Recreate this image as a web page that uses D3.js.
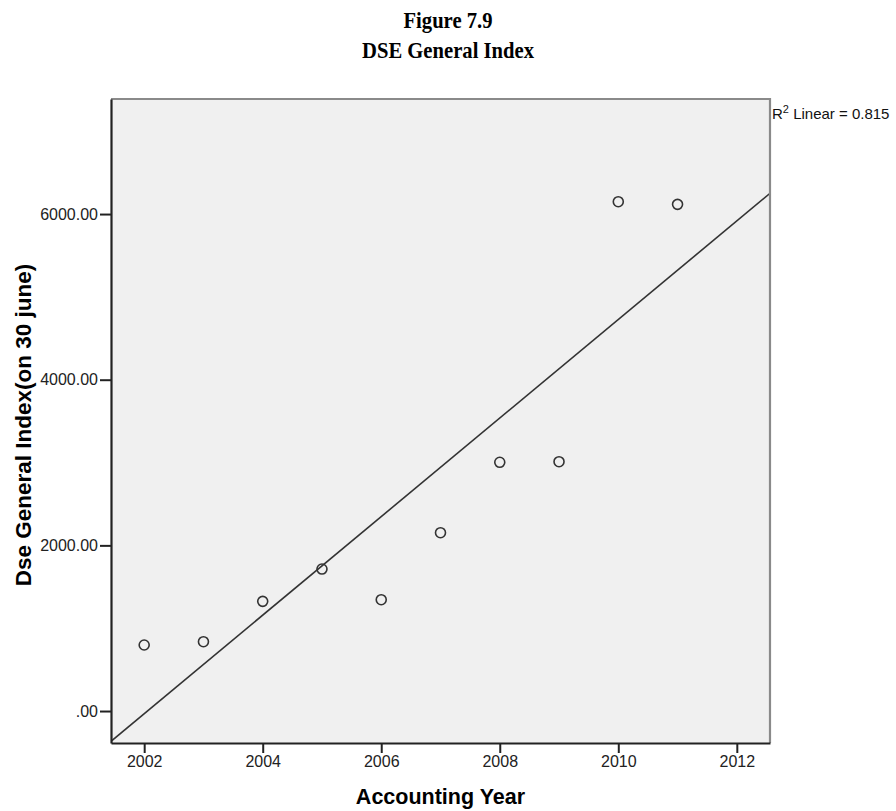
<!DOCTYPE html>
<html>
<head>
<meta charset="utf-8">
<script src="https://cdn.jsdelivr.net/npm/d3@7"></script>
<style>
  html, body { margin: 0; padding: 0; background: #fff; }
  svg { display: block; }
</style>
</head>
<body>
<svg id="chart" width="896" height="811"></svg>
<script>
// ---- data ----
const years = [2002, 2003, 2004, 2005, 2006, 2007, 2008, 2009, 2010, 2011];
const dseIndex = [797, 837, 1324, 1714, 1344, 2153, 3003, 3010, 6149, 6117];
const xTicks = [2002, 2004, 2006, 2008, 2010, 2012];
const yTicks = [0, 2000, 4000, 6000];
const rSquaredLabel = "0.815";
const titleLines = ["Figure 7.9", "DSE General Index"];
const xTitle = "Accounting Year";
const yTitle = "Dse General Index(on 30 june)";

// ---- layout ----
const svg = d3.select("#chart");
const plot = { left: 111, right: 770, top: 99, bottom: 743 };

const x = d3.scaleLinear().domain([2001.44, 2012.56]).range([plot.left, plot.right]);
const y = d3.scaleLinear().domain([-386, 7389]).range([plot.bottom, plot.top]);

// titles (condensed bold serif)
svg.selectAll("text.title").data(titleLines).join("text")
  .attr("class", "title")
  .attr("transform", (d, i) => `translate(448,${28 + i * 30}) scale(0.86,1)`)
  .attr("text-anchor", "middle")
  .attr("font-family", "'Liberation Serif', 'Times New Roman', serif")
  .attr("font-weight", "bold")
  .attr("font-size", 24)
  .attr("fill", "#000")
  .text(d => d);

// plot background
svg.append("rect")
  .attr("x", plot.left).attr("y", plot.top)
  .attr("width", plot.right - plot.left).attr("height", plot.bottom - plot.top)
  .attr("fill", "#f0f0f0");

// clip
svg.append("clipPath").attr("id", "clip").append("rect")
  .attr("x", plot.left).attr("y", plot.top)
  .attr("width", plot.right - plot.left).attr("height", plot.bottom - plot.top);

// regression line (least squares from data)
const mx = d3.mean(years), my = d3.mean(dseIndex);
const sxy = d3.sum(years, (v, i) => (v - mx) * (dseIndex[i] - my));
const sxx = d3.sum(years, v => (v - mx) * (v - mx));
const slope = sxy / sxx, icpt = my - slope * mx;
const [x0, x1] = x.domain();
svg.append("line")
  .attr("clip-path", "url(#clip)")
  .attr("x1", x(x0)).attr("y1", y(icpt + slope * x0))
  .attr("x2", x(x1)).attr("y2", y(icpt + slope * x1))
  .attr("stroke", "#333").attr("stroke-width", 1.6);

// points
svg.selectAll("circle.pt").data(years).join("circle")
  .attr("class", "pt")
  .attr("cx", d => x(d))
  .attr("cy", (d, i) => y(dseIndex[i]))
  .attr("r", 5)
  .attr("fill", "none")
  .attr("stroke", "#333")
  .attr("stroke-width", 1.6);

// frame top/right (gray)
svg.append("path")
  .attr("d", `M${plot.left},${plot.top}H${plot.right}V${plot.bottom}`)
  .attr("fill", "none").attr("stroke", "#8a8a8a").attr("stroke-width", 2.2);

// axes
const tickFont = "Arial, 'Liberation Sans', sans-serif";
const fmtY = v => d3.format(".2f")(v).replace(/^0\./, ".");

const xAxis = svg.append("g")
  .attr("transform", `translate(0,${plot.bottom})`)
  .call(d3.axisBottom(x).tickValues(xTicks).tickFormat(d3.format("d")).tickSize(10).tickPadding(3).tickSizeOuter(0));
const yAxis = svg.append("g")
  .attr("transform", `translate(${plot.left},0)`)
  .call(d3.axisLeft(y).tickValues(yTicks).tickFormat(fmtY).tickSize(11).tickPadding(2).tickSizeOuter(0));

[xAxis, yAxis].forEach(g => {
  g.select(".domain").attr("stroke", "#222").attr("stroke-width", 2.2);
  g.selectAll(".tick line").attr("stroke", "#222").attr("stroke-width", 2);
  g.selectAll(".tick text")
    .attr("font-family", tickFont)
    .attr("font-size", 16)
    .attr("fill", "#222");
});

// axis titles
svg.append("text")
  .attr("x", (plot.left + plot.right) / 2)
  .attr("y", 804)
  .attr("text-anchor", "middle")
  .attr("font-family", tickFont)
  .attr("font-weight", "bold")
  .attr("font-size", 21.5)
  .attr("fill", "#000")
  .text(xTitle);

svg.append("text")
  .attr("transform", `translate(31,425) rotate(-90)`)
  .attr("text-anchor", "middle")
  .attr("font-family", tickFont)
  .attr("font-weight", "bold")
  .attr("font-size", 22.5)
  .attr("fill", "#000")
  .text(yTitle);

// R² label
const r2 = svg.append("text")
  .attr("x", plot.right + 2)
  .attr("y", 119)
  .attr("font-family", tickFont)
  .attr("font-size", 15)
  .attr("fill", "#111");
r2.append("tspan").text("R");
r2.append("tspan").attr("dy", -6).attr("font-size", 11).text("2");
r2.append("tspan").attr("dy", 6).text(" Linear = " + rSquaredLabel);
</script>
</body>
</html>
